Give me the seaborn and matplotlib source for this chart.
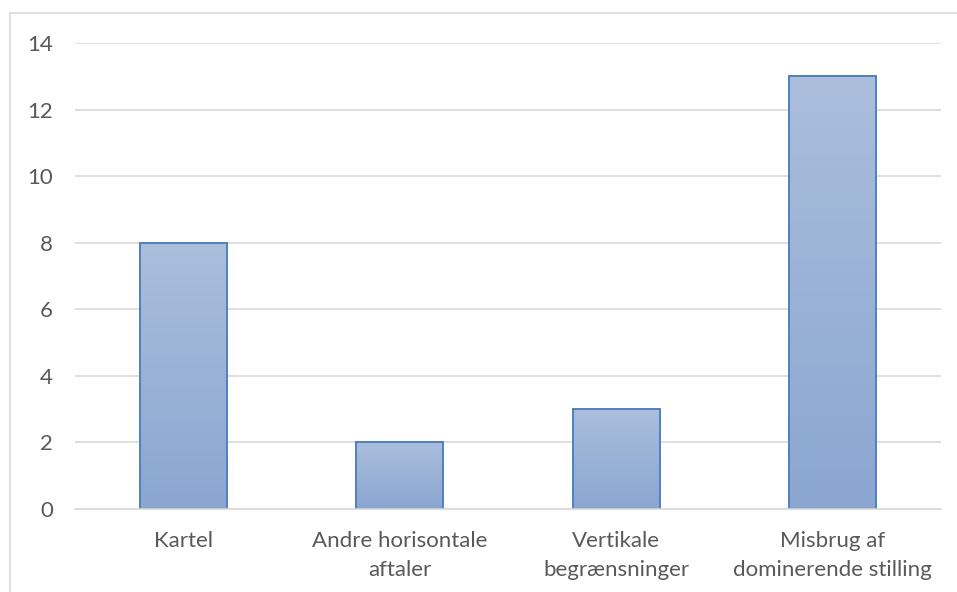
import numpy as np
import pandas as pd
import matplotlib
matplotlib.use("Agg")
import matplotlib.pyplot as plt
from matplotlib.colors import LinearSegmentedColormap
from matplotlib.lines import Line2D
import seaborn as sns

categories = ["Kartel", "Andre horisontale\naftaler", "Vertikale\nbegrænsninger", "Misbrug af\ndominerende stilling"]
values = [8, 2, 3, 13]
yticks = [0, 2, 4, 6, 8, 10, 12, 14]

sns.set_theme(style="white")
plt.rcParams['font.family'] = ['Lato', 'DejaVu Sans']

df = pd.DataFrame({"cat": categories, "val": values})

fig = plt.figure(figsize=(9.57, 5.92), dpi=100)
ax = fig.add_axes([75/957, 1-509/592, (941-75)/957, (509-43)/592])

sns.barplot(data=df, x="cat", y="val", ax=ax, width=0.40,
            color="#9AB1D6", edgecolor="#4F81BD", linewidth=1.4, saturation=1)

ax.set_ylim(0, 14)
ax.set_xlim(-0.5, len(categories) - 0.5)
ax.set_yticks(yticks)
ax.yaxis.grid(True, color="#D9D9D9", linewidth=1.2)
ax.set_axisbelow(True)
for s in ["left", "right", "top"]:
    ax.spines[s].set_visible(False)
ax.spines["bottom"].set_color("#D9D9D9")
ax.spines["bottom"].set_linewidth(1.2)
ax.set_xlabel("")
ax.set_ylabel("")
ax.tick_params(axis="both", length=0, labelsize=16, colors="#595959")
ax.tick_params(axis="y", pad=16)
ax.tick_params(axis="x", pad=15.5)
for lbl in ax.get_xticklabels():
    lbl.set_linespacing(1.62)

# gradient fill for bars
cmap = LinearSegmentedColormap.from_list("g", ["#8AA6D1", "#ABBEDC"])
grad = np.linspace(0, 1, 256).reshape(-1, 1)
for p in ax.patches:
    x0, y0 = p.get_x(), p.get_y()
    w, h = p.get_width(), p.get_height()
    p.set_facecolor("none")
    im = ax.imshow(grad, cmap=cmap, aspect="auto", origin="lower",
                   extent=[x0, x0 + w, y0, y0 + h], zorder=p.get_zorder() - 0.1)
    im.set_clip_path(p)
ax.set_xlim(-0.5, len(categories) - 0.5)
ax.set_ylim(0, 14)

# chart border
fig.add_artist(Line2D([10/957, 10/957], [0, 1-13/592], transform=fig.transFigure, color="#D9D9D9", linewidth=1.2))
fig.add_artist(Line2D([10/957, 1], [1-13/592, 1-13/592], transform=fig.transFigure, color="#D9D9D9", linewidth=1.2))

fig.savefig("out.png", dpi=100)
